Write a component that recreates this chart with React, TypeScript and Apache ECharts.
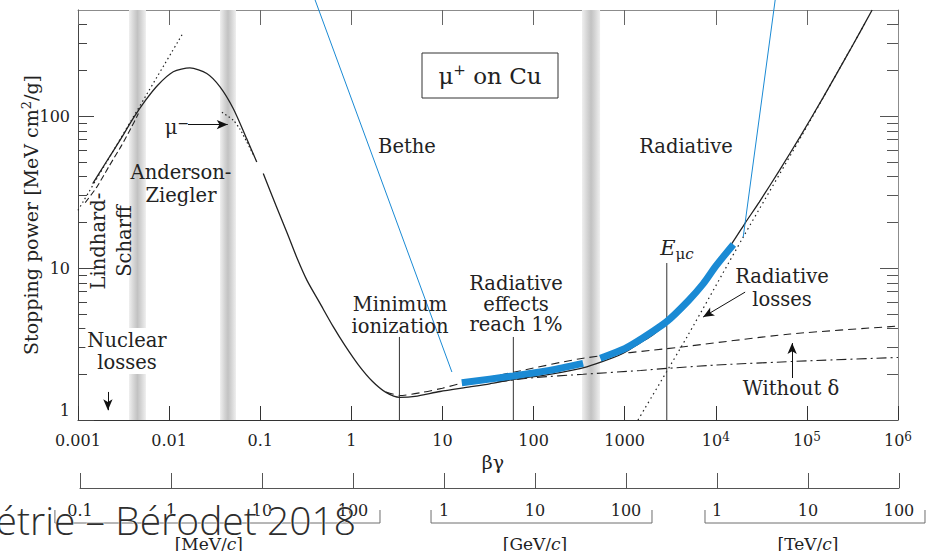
import React, { useEffect, useRef } from 'react';
import * as echarts from 'echarts';

// ---- axes ----
const xDecades = [0.001, 0.01, 0.1, 1, 10, 100, 1000, 1e4, 1e5, 1e6];
const xTickLabels = ['0.001', '0.01', '0.1', '1', '10', '100', '1000', '10^4', '10^5', '10^6'];
const momentumLabels = ['0.1', '1', '10', '100', '1', '10', '100', '1', '10', '100'];
const yMajor = [1, 10, 100];
const yMinor = [2, 3, 4, 5, 6, 7, 8, 9, 20, 30, 40, 50, 60, 70, 80, 90, 200, 300, 400];

// ---- momentum scale groups (in βγ units) ----
const unitNames = ['MeV', 'GeV', 'TeV'];
const bracketFrom = [0.00053, 7.2, 7380];
const bracketTo = [1.98, 1930, 1.93e6];
const unitCentre = [0.026, 100, 1e5];

// ---- curves: [βγ, stopping power MeV cm²/g] ----
const totalLow: [number, number][] = [
  [0.00145, 36], [0.002, 49], [0.003, 72], [0.004, 96], [0.0055, 127], [0.0075, 160],
  [0.0111, 196], [0.0169, 208], [0.0259, 191], [0.0362, 156], [0.0507, 112], [0.0711, 71], [0.0916, 50],
];
const totalHigh: [number, number][] = [
  [0.108, 42], [0.15, 25.5], [0.2, 16.7], [0.254, 11.6], [0.326, 8.3], [0.45, 5.9], [0.635, 4.1],
  [0.85, 3.1], [1.2, 2.3], [1.7, 1.8], [2.4, 1.52], [3.4, 1.41], [5, 1.43], [9.4, 1.54], [20, 1.65],
  [33, 1.73], [60, 1.85], [150, 2.0], [384, 2.24], [746, 2.57], [1000, 2.78], [1476, 3.22],
  [2000, 3.6], [2950, 4.36], [5000, 6.0], [7000, 7.7], [10000, 10.5], [15000, 14.5], [21000, 19.8],
  [30000, 27.2], [50000, 44], [85000, 74], [150000, 132], [300000, 275], [520000, 500],
];
const lowDashed: [number, number][] = [
  [0.0012, 27], [0.0016, 34], [0.0022, 47], [0.003, 64], [0.0038, 83], [0.0046, 104],
];
const lindhardDotted: [number, number][] = [[0.001, 24], [0.0142, 352]];
const muMinus: [number, number][] = [[0.038, 106], [0.0507, 94], [0.06, 82], [0.071, 68], [0.085, 55]];
const withoutDelta: [number, number][] = [
  [2.4, 1.53], [3.4, 1.45], [6, 1.52], [10, 1.62], [17.7, 1.77], [60, 2.06], [350, 2.55],
  [3760, 3.0], [65500, 3.68], [1e6, 4.15],
];
const ionization: [number, number][] = [
  [40, 1.78], [100, 1.9], [350, 2.0], [1500, 2.12], [3000, 2.19], [1e4, 2.3], [1e5, 2.45], [1e6, 2.58],
];
const radiative: [number, number][] = [
  [1400, 1.0], [4800, 3.5], [20000, 16], [85000, 72], [450000, 425],
];
const blueLow: [number, number][] = [[16.3, 1.76], [60, 1.95], [150, 2.12], [350, 2.36]];
const blueHigh: [number, number][] = [
  [540, 2.55], [1000, 2.95], [1500, 3.4], [2900, 4.45], [5000, 6.1], [7300, 7.9], [10000, 10.3], [15600, 14.3],
];
const blueLeaderA: [number, number][] = [[0.385, 620], [12.7, 2.07]];
const blueLeaderB: [number, number][] = [[45500, 620], [20000, 16]];

// ---- shaded transition bands (βγ ranges) ----
const bands: [number, number][] = [[0.00363, 0.00557], [0.0362, 0.0542], [340, 537]];

// ---- marker lines and arrows ----
const minIonization: [number, number][] = [[3.37, 1], [3.37, 3.52]];
const radiativeOnePct: [number, number][] = [[60, 1], [60, 3.52]];
const muonCritical: [number, number][] = [[2900, 1], [2900, 10.8]];
const arrows: [[number, number], [number, number]][] = [
  [[0.0161, 88], [0.044, 88]],
  [[0.00213, 1.53], [0.00213, 1.16]],
  [[21000, 6.95], [7260, 4.76]],
  [[68900, 1.89], [68900, 3.21]],
];

const SERIF = 'DejaVu Serif';
const INK = '#222';
const BLUE = '#1a8ad4';

function curve(name: string, data: [number, number][], lineStyle: any, z = 3, extra: any = {}) {
  return {
    type: 'line', name, data, xAxisIndex: 0, yAxisIndex: 0, symbol: 'none', silent: true,
    smooth: 0.25, z,
    lineStyle: { color: INK, width: 1.2, ...lineStyle },
    ...extra,
  };
}

function buildOption() {
  const bandFill = new echarts.graphic.LinearGradient(0, 0, 1, 0, [
    { offset: 0, color: '#efefef' },
    { offset: 0.3, color: '#d3d3d3' },
    { offset: 0.5, color: '#c2c2c2' },
    { offset: 0.7, color: '#d3d3d3' },
    { offset: 1, color: '#efefef' },
  ]);
  const tickLabel = (v: number) => {
    const i = Math.round(Math.log10(v)) + 3;
    const t = xTickLabels[i] ?? '';
    const [base, sup] = t.split('^');
    return sup ? `{n|${base}}{s|${sup}}` : `{n|${base}}`;
  };
  const logX = { type: 'log', logBase: 10, min: 0.001, max: 1e6, splitLine: { show: false } };
  const logY = { type: 'log', logBase: 10, min: 1, max: 500, splitLine: { show: false } };
  return {
    animation: false,
    backgroundColor: '#fff',
    textStyle: { fontFamily: SERIF },
    grid: [
      { left: 78, right: 32, top: 10, bottom: 131 },
      { left: 80, right: 31, top: 10, bottom: 131 },
    ],
    xAxis: [
      {
        ...logX, gridIndex: 0, position: 'bottom',
        axisLine: { lineStyle: { color: '#333', width: 1 } },
        axisTick: { inside: true, length: 14, customValues: xDecades, lineStyle: { color: '#333' } },
        axisLabel: {
          customValues: xDecades, showMinLabel: true, showMaxLabel: true, margin: 11,
          formatter: tickLabel,
          rich: {
            n: { fontSize: 16, fontFamily: SERIF, color: INK, lineHeight: 18 },
            s: { fontSize: 12, fontFamily: SERIF, color: INK, verticalAlign: 'top', lineHeight: 18 },
          },
        },
        name: 'βγ', nameLocation: 'middle', nameGap: 31,
        nameTextStyle: { fontSize: 19, fontFamily: SERIF, color: INK, padding: [0, 0, 0, 10] },
      },
      {
        ...logX, gridIndex: 0, position: 'top',
        axisLine: { lineStyle: { color: '#8c8c8c' } },
        axisTick: { inside: true, length: 15, customValues: xDecades, lineStyle: { color: '#666' } },
        axisLabel: { show: false },
      },
      {
        ...logX, gridIndex: 1, position: 'bottom', offset: 68,
        axisLine: { lineStyle: { color: '#555' } },
        axisTick: { inside: true, length: 15, customValues: xDecades, lineStyle: { color: '#555' } },
        axisLabel: { show: false },
      },
      {
        ...logX, gridIndex: 1, position: 'bottom', offset: 82,
        axisLine: { show: false }, axisTick: { show: false },
        axisLabel: {
          customValues: xDecades, showMinLabel: true, showMaxLabel: true, margin: 0,
          fontSize: 16, fontFamily: SERIF, color: INK,
          formatter: (v: number) => momentumLabels[Math.round(Math.log10(v)) + 3] ?? '',
        },
      },
    ],
    yAxis: [
      {
        ...logY, gridIndex: 0, position: 'left',
        axisLine: { lineStyle: { color: '#444' } },
        axisTick: { inside: true, length: 16, customValues: yMajor, lineStyle: { color: '#444' } },
        axisLabel: {
          customValues: yMajor, showMinLabel: true, showMaxLabel: true, margin: 8,
          fontSize: 16, fontFamily: SERIF, color: INK,
          formatter: (v: number) => (v === 1 ? '{low|1}' : String(v)),
          rich: { low: { fontSize: 16, fontFamily: SERIF, color: INK, padding: [0, 0, 20, 0] } },
        },
        name: '{a|Stopping power [MeV cm}{s|2}{a|/g]}',
        nameLocation: 'middle', nameRotate: 90, nameGap: 36, nameMoveOverlap: false,
        nameTextStyle: {
          rich: {
            a: { fontSize: 19, fontFamily: SERIF, color: INK, lineHeight: 22 },
            s: { fontSize: 13, fontFamily: SERIF, color: INK, verticalAlign: 'top', lineHeight: 22 },
          },
        },
      },
      {
        ...logY, gridIndex: 0, position: 'left',
        axisLine: { show: false },
        axisTick: { inside: true, length: 9, customValues: yMinor, lineStyle: { color: '#444' } },
        axisLabel: { show: false },
      },
      {
        ...logY, gridIndex: 0, position: 'right',
        axisLine: { lineStyle: { color: '#8c8c8c' } },
        axisTick: { inside: true, length: 18, customValues: yMajor, lineStyle: { color: '#555' } },
        axisLabel: { show: false },
      },
      {
        ...logY, gridIndex: 0, position: 'right',
        axisLine: { show: false },
        axisTick: { inside: true, length: 11, customValues: yMinor, lineStyle: { color: '#555' } },
        axisLabel: { show: false },
      },
      { ...logY, gridIndex: 1, show: false },
    ],
    series: [
      {
        type: 'line', name: 'bands', data: [], xAxisIndex: 0, yAxisIndex: 0, z: 1, silent: true,
        markArea: {
          silent: true,
          itemStyle: { color: bandFill },
          data: bands.map(([a, b]) => [{ xAxis: a }, { xAxis: b }]),
        },
      },
      curve('Lindhard-Scharff', lindhardDotted, { type: [1.5, 3], width: 1.2 }),
      curve('Low-energy dashed', lowDashed, { type: [6, 3], width: 1.1 }),
      curve('μ⁻', muMinus, { type: [1.5, 2.5], width: 1.2 }),
      curve('Without δ', withoutDelta, { type: [8, 5], width: 1.1 }),
      curve('Ionization', ionization, { type: [10, 4, 2, 4], width: 1.1 }),
      curve('Radiative', radiative, { type: [1.5, 3.5], width: 1.2 }),
      curve('Total (Anderson-Ziegler)', totalLow, { width: 1.3 }, 4),
      curve('Total (Bethe + radiative)', totalHigh, { width: 1.3 }, 4),
      curve('Highlight low', blueLow, { color: BLUE, width: 7, cap: 'butt' }, 5),
      curve('Highlight high', blueHigh, { color: BLUE, width: 7, cap: 'butt' }, 5),
      curve('Leader A', blueLeaderA, { color: BLUE, width: 1 }, 6, { smooth: false, clip: false }),
      curve('Leader B', blueLeaderB, { color: BLUE, width: 1 }, 6, { smooth: false, clip: false }),
      curve('Minimum ionization', minIonization, { color: '#333', width: 1 }, 3, { smooth: false }),
      curve('Radiative effects 1%', radiativeOnePct, { color: '#333', width: 1 }, 3, { smooth: false }),
      curve('Eμc', muonCritical, { color: '#333', width: 1 }, 3, { smooth: false }),
      {
        type: 'line', name: 'arrows', data: [], xAxisIndex: 0, yAxisIndex: 0, z: 6, silent: true,
        markLine: {
          silent: true, symbol: ['none', 'arrow'], symbolSize: [7, 11],
          label: { show: false },
          lineStyle: { color: '#111', width: 1, type: 'solid' },
          itemStyle: { color: '#111' },
          data: arrows.map(([a, b]) => [{ coord: a }, { coord: b }]),
        },
      },
    ],
  };
}

function text(x: number, y: number, str: string, extra: any = {}, rotation = 0) {
  return {
    type: 'text', x, y, rotation, z: 20, silent: true,
    style: {
      text: str, fill: INK, fontFamily: SERIF, fontSize: 19.5, lineHeight: 22,
      align: 'center', verticalAlign: 'middle', textAlign: 'center', textVerticalAlign: 'middle',
      ...extra,
    },
  };
}

function staticGraphics() {
  return [
    { type: 'rect', z: 19, silent: true, shape: { x: 422, y: 53, width: 136, height: 45 }, style: { fill: '#fff', stroke: '#333', lineWidth: 1 } },
    text(490, 76, '{a|μ}{s|+}{a| on Cu}', {
      rich: {
        a: { fontSize: 23, fontFamily: SERIF, fill: INK, lineHeight: 28 },
        s: { fontSize: 15, fontFamily: SERIF, fill: INK, verticalAlign: 'top', lineHeight: 28 },
      },
    }),
    text(407, 146, 'Bethe'),
    text(686, 146, 'Radiative'),
    text(181, 184, 'Anderson-\nZiegler', { lineHeight: 23 }),
    text(177, 127, '{a|μ}{s|−}', {
      rich: {
        a: { fontSize: 19.5, fontFamily: SERIF, fill: INK, lineHeight: 22 },
        s: { fontSize: 14, fontFamily: SERIF, fill: INK, verticalAlign: 'top', lineHeight: 22 },
      },
    }),
    text(111, 241, 'Lindhard-\nScharff', { lineHeight: 26 }, Math.PI / 2),
    text(127, 351, 'Nuclear\nlosses', { backgroundColor: '#fff', padding: [1, 2] }),
    text(400, 315, 'Minimum\nionization'),
    text(516, 304, 'Radiative\neffects\nreach 1%', { lineHeight: 20.5 }),
    text(677, 248, '{e|E}{u|μ}{c|c}', {
      rich: {
        e: { fontSize: 21, fontFamily: SERIF, fontStyle: 'italic', fill: INK, lineHeight: 26 },
        u: { fontSize: 15, fontFamily: SERIF, fill: INK, verticalAlign: 'bottom', lineHeight: 26 },
        c: { fontSize: 15, fontFamily: SERIF, fontStyle: 'italic', fill: INK, verticalAlign: 'bottom', lineHeight: 26 },
      },
    }),
    text(782, 288, 'Radiative\nlosses', { lineHeight: 23 }),
    text(791, 388, 'Without δ'),
  ];
}

function momentumGraphics(toX: (v: number) => number) {
  const out: any[] = [];
  unitNames.forEach((u, i) => {
    const x0 = toX(bracketFrom[i]);
    const x1 = toX(bracketTo[i]);
    out.push({
      type: 'polyline', z: 10, silent: true,
      shape: { points: [[x0, 510], [x0, 523], [x1, 523], [x1, 510]] },
      style: { stroke: '#6e6e6e', lineWidth: 1, fill: 'none' },
    });
    out.push(text(toX(unitCentre[i]), 544, `[${u}/{i|c}]`, {
      fontSize: 17,
      rich: { i: { fontSize: 17, fontFamily: SERIF, fontStyle: 'italic', fill: INK } },
    }));
  });
  return out;
}

export default function App() {
  const ref = useRef<HTMLDivElement>(null);
  useEffect(() => {
    if (!ref.current) return;
    const chart = echarts.init(ref.current, null, { renderer: 'svg' });
    chart.setOption(buildOption() as any);
    const toX = (v: number) => chart.convertToPixel({ xAxisIndex: 2 } as any, v) as unknown as number;
    chart.setOption({
      graphic: [
        ...staticGraphics(),
        ...momentumGraphics(toX),
        {
          // thin sans caption laid over the foot of the figure
          type: 'text', x: 356, y: 519, z: 100, silent: true,
          style: {
            text: 'étrie – Bérodet 2018', fill: '#2e2e2e', stroke: '#fff', lineWidth: 0.9,
            fontFamily: 'Open Sans', fontWeight: 300, fontSize: 39,
            align: 'right', verticalAlign: 'middle', textAlign: 'right', textVerticalAlign: 'middle',
          },
        },
      ],
    } as any);
    return () => chart.dispose();
  }, []);
  return <div ref={ref} style={{ position: 'fixed', left: 0, top: 0, width: 930, height: 551 }} />;
}
